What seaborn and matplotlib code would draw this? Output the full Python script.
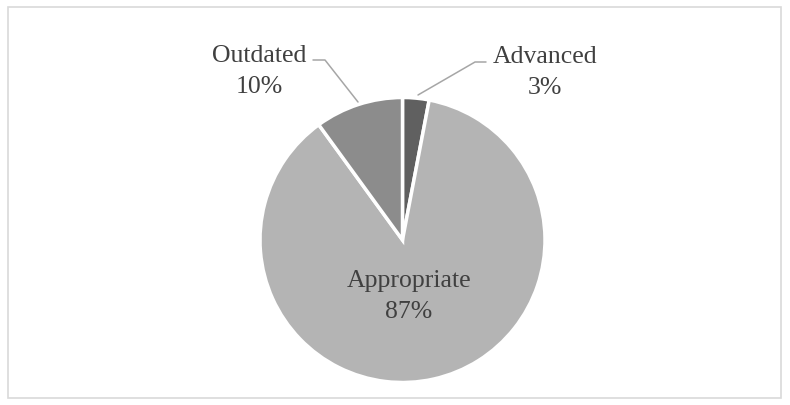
import matplotlib
matplotlib.use("Agg")
import matplotlib.pyplot as plt
from matplotlib.patches import Rectangle
import seaborn as sns

categories = ["Advanced", "Appropriate", "Outdated"]
values = [3, 87, 10]
pct_labels = ["3%", "87%", "10%"]
colors = ["#606060", "#b4b4b4", "#8c8c8c"]

sns.set_theme(style="white")
plt.rcParams['font.family'] = ['Liberation Serif', 'DejaVu Serif']

W, H = 790, 405
fig = plt.figure(figsize=(W / 100, H / 100), dpi=100)
ax = fig.add_axes([0, 0, 1, 1])

cx, cy, r = 402.5, 240, 142.5  # pixels (y from top)

wedges, _ = ax.pie(values, colors=colors, startangle=90, counterclock=False,
                   radius=1.0, center=(0, 0),
                   wedgeprops=dict(edgecolor="white", linewidth=2.5))
ax.set_aspect("auto")
ax.set_xlim(-cx / r, (W - cx) / r)
ax.set_ylim(-(H - cy) / r, cy / r)
ax.axis("off")

def px(x, y):
    return ((x - cx) / r, (cy - y) / r)

tc = "#404040"
fs = 18.5
kw = dict(ha="center", va="baseline", fontsize=fs, color=tc)
# Appropriate inside
ax.text(*px(409, 287), categories[1], **kw)
ax.text(*px(409, 318), pct_labels[1], **kw)

# Advanced outside
ax.text(*px(545, 63), categories[0], **kw)
ax.text(*px(545, 94), pct_labels[0], **kw)
xs, ys = zip(px(418, 95), px(475, 62), px(486, 62))
ax.plot(xs, ys, color="#a6a6a6", lw=1.1)

# Outdated outside
ax.text(*px(259, 62), categories[2], **kw)
ax.text(*px(259, 93), pct_labels[2], **kw)
xs, ys = zip(px(358, 102), px(325, 60), px(313, 60))
ax.plot(xs, ys, color="#a6a6a6", lw=1.1)

fig.patches.append(Rectangle((8 / W, 1 - 398 / H), (781 - 8) / W, (398 - 7) / H,
                             transform=fig.transFigure, fill=False,
                             edgecolor="#d9d9d9", lw=1.2))

fig.savefig("out.png", dpi=100, facecolor="white")
